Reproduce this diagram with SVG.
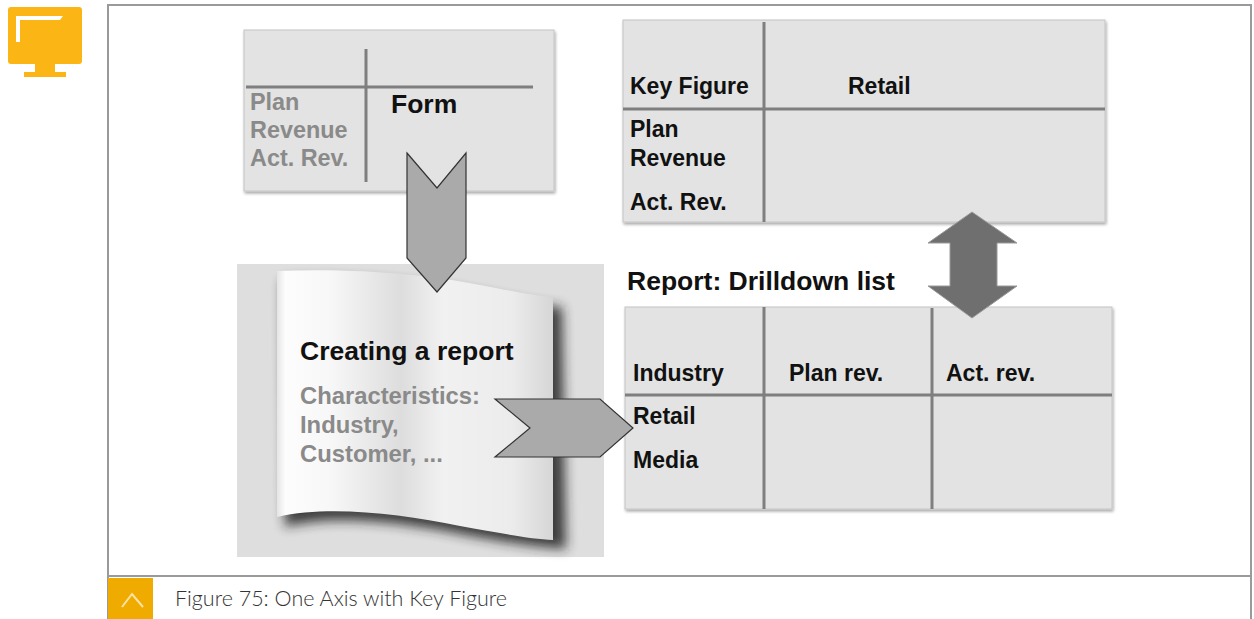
<svg xmlns="http://www.w3.org/2000/svg" width="1254" height="619" viewBox="0 0 1254 619">
  <defs>
    <style>
      .frame { fill: none; stroke: #9a9a9a; stroke-width: 2; }
      .box { fill: #e3e3e3; stroke: #c4c4c4; stroke-width: 1; }
      .grid { stroke: #7f7f7f; stroke-width: 3; fill: none; }
      .t { font-family: "Liberation Sans", Arial, sans-serif; font-weight: bold; font-size: 23px; fill: #111; }
      .tg { font-family: "Liberation Sans", Arial, sans-serif; font-weight: bold; font-size: 23.4px; fill: #8a8a8a; }
      .title { font-family: "Liberation Sans", Arial, sans-serif; font-weight: bold; font-size: 26.5px; fill: #111; }
      .arrow { fill: #aaaaaa; stroke: #333; stroke-width: 1.2; stroke-linejoin: miter; }
      .caption { font-family: Lato, "Open Sans", sans-serif; font-weight: 300; font-size: 21.5px; fill: #333; }
    </style>
    <linearGradient id="pageShade" x1="0" y1="0" x2="1" y2="0">
      <stop offset="0" stop-color="#e4e4e4"/>
      <stop offset="0.03" stop-color="#fdfdfd"/>
      <stop offset="0.2" stop-color="#f7f7f7"/>
      <stop offset="0.45" stop-color="#dddddd"/>
      <stop offset="0.6" stop-color="#f1f1f1"/>
      <stop offset="0.85" stop-color="#ececec"/>
      <stop offset="1" stop-color="#d6d6d6"/>
    </linearGradient>
    <filter id="soft" x="-20%" y="-20%" width="140%" height="140%">
      <feGaussianBlur stdDeviation="6"/>
    </filter>
    <filter id="boxShadow" x="-5%" y="-5%" width="110%" height="115%">
      <feGaussianBlur in="SourceAlpha" stdDeviation="1.5"/>
      <feOffset dx="1" dy="2"/>
      <feComponentTransfer><feFuncA type="linear" slope="0.35"/></feComponentTransfer>
      <feMerge><feMergeNode/><feMergeNode in="SourceGraphic"/></feMerge>
    </filter>
  </defs>

  <rect width="1254" height="619" fill="#ffffff"/>

  <!-- monitor icon -->
  <g id="icon">
    <rect x="8" y="7" width="74" height="57" rx="3" fill="#FBB615"/>
    <rect x="35" y="63" width="20" height="10" fill="#FBB615"/>
    <rect x="24" y="72" width="42" height="5" fill="#FBB615"/>
    <path d="M16,16 L63,16 L60,20 L20,20 L20,42 L16,42 Z" fill="#ffffff"/>
  </g>

  <!-- content frame and caption bar -->
  <g id="frame">
    <path class="frame" d="M108,619 L108,5 L1251,5 L1251,619"/>
    <line class="frame" x1="108" y1="576" x2="1251" y2="576"/>
    <rect x="108" y="578" width="45" height="41" fill="#F0AB00"/>
    <path d="M122,607 L132,594 L143,607" fill="none" stroke="#fbe3a6" stroke-width="2"/>
    <text class="caption" x="175" y="606">Figure 75: One Axis with Key Figure</text>
  </g>

  <!-- form -->
  <g id="form">
    <rect class="box" x="244" y="30" width="310" height="161" filter="url(#boxShadow)"/>
    <line class="grid" x1="246" y1="87" x2="533" y2="87"/>
    <line class="grid" x1="366" y1="49" x2="366" y2="182"/>
    <text class="tg" x="250" y="110">Plan</text>
    <text class="tg" x="250" y="138">Revenue</text>
    <text class="tg" x="250" y="166">Act. Rev.</text>
    <text class="title" x="391" y="113">Form</text>
  </g>

  <!-- report definition sheet -->
  <g id="report">
    <rect x="237" y="264" width="367" height="293" fill="#dedede"/>
    <path d="M283,280 C360,277 430,284 480,294 C515,301 540,306 562,307 L566,549 C540,548 505,542 465,535 C405,523 335,514 285,527 Z" fill="#222" opacity="0.85" filter="url(#soft)"/>
    <path d="M277,271 C360,268 430,275 480,285 C512,291 535,296 553,297 L553,540 C530,539 500,533 460,526 C400,514 330,505 277,517 Z" fill="url(#pageShade)"/>
    <text class="title" x="300" y="360">Creating a report</text>
    <text class="tg" x="300" y="404" style="font-size:23.8px">Characteristics:</text>
    <text class="tg" x="300" y="433" style="font-size:23.8px">Industry,</text>
    <text class="tg" x="300" y="462" style="font-size:23.8px">Customer, ...</text>
  </g>

  <!-- key figure table -->
  <g id="keyfigure">
    <rect class="box" x="623" y="20" width="482" height="202" filter="url(#boxShadow)"/>
    <line class="grid" x1="623" y1="109" x2="1105" y2="109"/>
    <line class="grid" x1="764" y1="22" x2="764" y2="222"/>
    <text class="t" x="630" y="94">Key Figure</text>
    <text class="t" x="848" y="94">Retail</text>
    <text class="t" x="630" y="137">Plan</text>
    <text class="t" x="630" y="166">Revenue</text>
    <text class="t" x="630" y="210">Act. Rev.</text>
  </g>

  <!-- drilldown list -->
  <g id="drilldown">
    <text class="title" x="627" y="290">Report: Drilldown list</text>
    <rect class="box" x="625" y="307" width="487" height="202" filter="url(#boxShadow)"/>
    <line class="grid" x1="625" y1="395" x2="1112" y2="395"/>
    <line class="grid" x1="764" y1="307" x2="764" y2="509"/>
    <line class="grid" x1="932" y1="308" x2="932" y2="509"/>
    <text class="t" x="633" y="381">Industry</text>
    <text class="t" x="789" y="381">Plan rev.</text>
    <text class="t" x="946" y="381">Act. rev.</text>
    <text class="t" x="633" y="424">Retail</text>
    <text class="t" x="633" y="468">Media</text>
  </g>

  <!-- connectors -->
  <g id="connectors">
    <path class="arrow" d="M407,153 L437,188 L466,153 L466,258 L437,292 L407,258 Z"/>
    <path class="arrow" d="M495,399 L600,399 L633,428 L600,457 L495,457 L530,428 Z"/>
    <path d="M972,212 L1017,243 L997,243 L997,286 L1017,286 L972,318 L928,286 L950,286 L950,243 L928,243 Z" fill="#6f6f6f" stroke="#9a9a9a" stroke-width="1"/>
  </g>
</svg>
